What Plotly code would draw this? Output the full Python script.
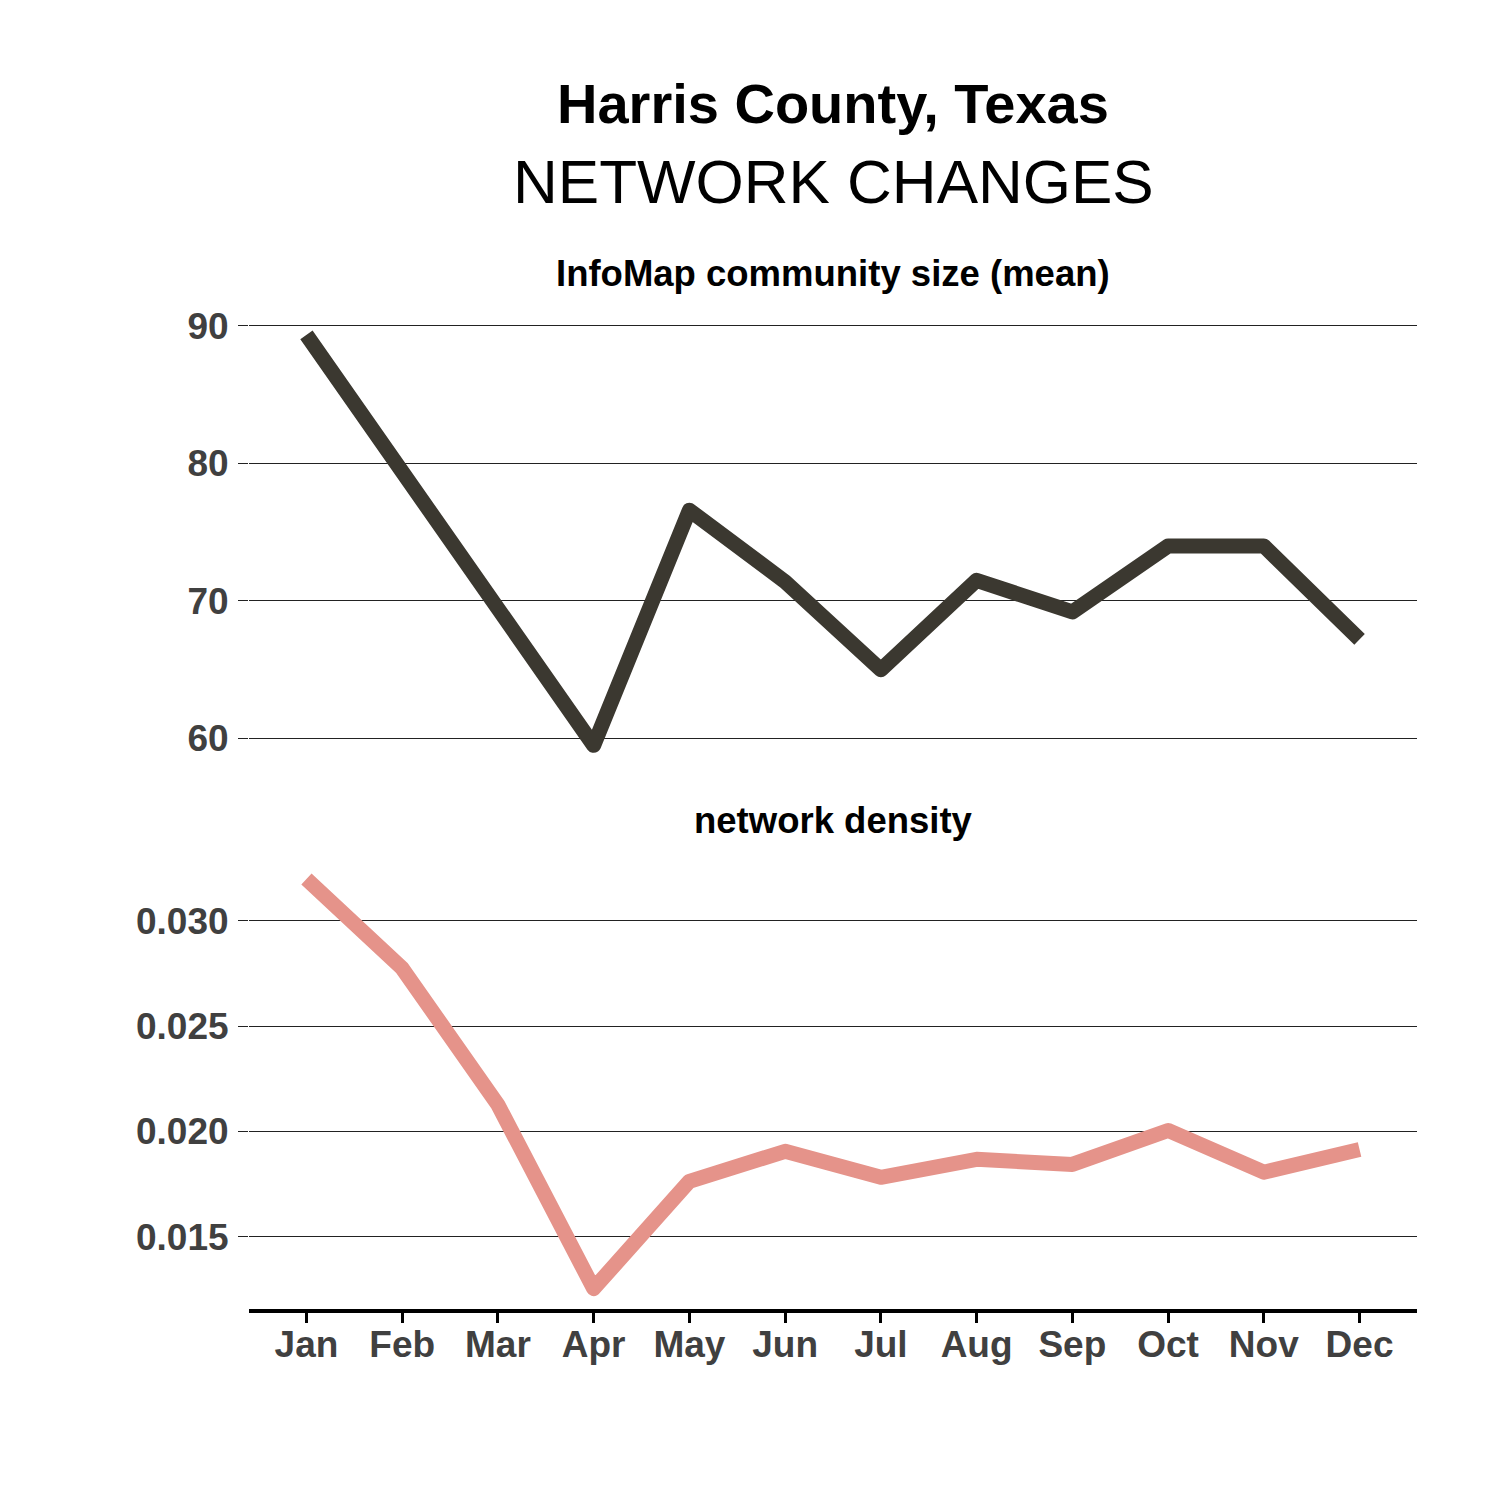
import plotly.graph_objects as go

# ---- data ----
months = ["Jan", "Feb", "Mar", "Apr", "May", "Jun", "Jul", "Aug", "Sep", "Oct", "Nov", "Dec"]
community_size = [89.35, 79.5, 69.8, 59.5, 76.6, 71.4, 65.0, 71.5, 69.2, 74.0, 74.0, 67.2]
density = [0.03198, 0.02774, 0.02127, 0.01255, 0.01764, 0.01906, 0.01783, 0.01868, 0.01844,
           0.02005, 0.01807, 0.01915]
top_ticks = [60, 70, 80, 90]
bottom_ticks = [0.015, 0.020, 0.025, 0.030]
bottom_tick_labels = ["0.015", "0.020", "0.025", "0.030"]

title = "Harris County, Texas"
subtitle = "NETWORK CHANGES"
panel_titles = ["InfoMap community size (mean)", "network density"]

# ---- layout helpers ----
W = H = 1500
OFF = 8  # page body margin
FONT = "Liberation Sans, Arial, sans-serif"


def py(p):
    return 1 - (p - OFF) / H


def px(p):
    return (p - OFF) / W


x_idx = list(range(len(months)))
x_dom = [px(249), px(1417)]
x_center = (x_dom[0] + x_dom[1]) / 2

fig = go.Figure()
fig.add_trace(go.Scatter(x=x_idx, y=community_size, mode="lines",
                         line=dict(color="#3b3830", width=15),
                         xaxis="x2", yaxis="y2", showlegend=False, hoverinfo="skip"))
fig.add_trace(go.Scatter(x=x_idx, y=density, mode="lines",
                         line=dict(color="#e5938a", width=15),
                         xaxis="x", yaxis="y", showlegend=False, hoverinfo="skip"))

tickfont = dict(family=FONT, size=37, color="#404040", weight="bold")

yaxis_common = dict(showgrid=True, gridcolor="#222222", gridwidth=1, zeroline=False,
                    showline=False, ticks="outside", ticklen=10, tickwidth=1,
                    tickcolor="#222222", tickfont=tickfont, ticklabelstandoff=2)

fig.update_layout(
    width=W, height=H,
    margin=dict(l=0, r=0, t=0, b=0),
    paper_bgcolor="white", plot_bgcolor="white",
    xaxis=dict(domain=x_dom, anchor="y", range=[-0.6, 11.6], tickvals=x_idx, ticktext=months,
               showgrid=False, zeroline=False, showline=True, linecolor="black", linewidth=4,
               ticks="outside", ticklen=10, tickwidth=3, tickcolor="black", tickfont=tickfont,
               ticklabelstandoff=-10),
    xaxis2=dict(domain=x_dom, anchor="y2", range=[-0.6, 11.6], visible=False),
    yaxis=dict(domain=[py(1308), py(855)], range=[0.01158, 0.03295], anchor="x",
               tickvals=bottom_ticks, ticktext=bottom_tick_labels, **yaxis_common),
    yaxis2=dict(domain=[py(762), py(308)], range=[58.0, 90.84], anchor="x2",
                tickvals=top_ticks, ticktext=[str(t) for t in top_ticks], **yaxis_common),
)

annotations = [
    dict(text=title, x=x_center, y=py(96), font=dict(family=FONT, size=56, color="black", weight="bold")),
    dict(text=subtitle, x=x_center, y=py(174), font=dict(family=FONT, size=62, color="black")),
    dict(text=panel_titles[0], x=x_center, y=py(267), font=dict(family=FONT, size=36.5, color="black", weight="bold")),
    dict(text=panel_titles[1], x=x_center, y=py(817), font=dict(family=FONT, size=36.5, color="black", weight="bold")),
]
for a in annotations:
    fig.add_annotation(xref="paper", yref="paper", xanchor="center", yanchor="middle",
                       showarrow=False, **a)

round_joins = ("document.querySelectorAll('.scatterlayer .js-line')"
               ".forEach(function(e){e.style.strokeLinejoin='round';});")
fig.write_html("out.html", post_script=round_joins)
